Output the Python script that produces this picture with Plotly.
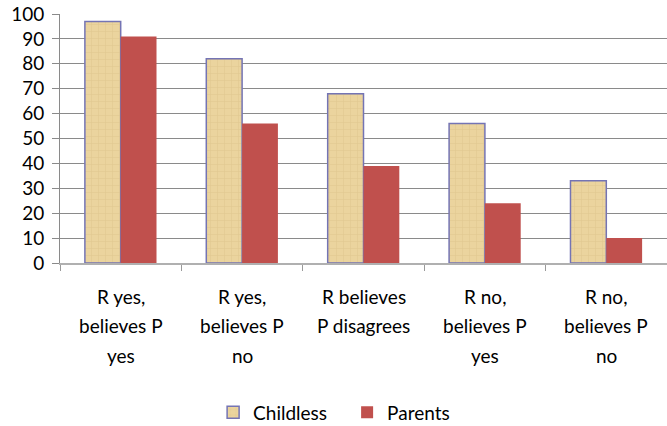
import plotly.graph_objects as go

# Survey response categories (one label line per entry)
category_lines = [
    ["R yes,", "believes P", "yes"],
    ["R yes,", "believes P", "no"],
    ["R believes", "P disagrees"],
    ["R no,", "believes P", "yes"],
    ["R no,", "believes P", "no"],
]
categories = [" ".join(lines) for lines in category_lines]

childless = [97, 82, 68, 56, 33]
parents = [91, 56, 39, 24, 10]

y_ticks = [0, 10, 20, 30, 40, 50, 60, 70, 80, 90, 100]

FONT = "Lato, 'DejaVu Sans', sans-serif"
GRID = "#8a8a8a"

fig = go.Figure()
fig.add_trace(go.Bar(
    name="Childless",
    x=categories,
    y=childless,
    marker=dict(
        color="#EBD49E",
        line=dict(color="#7474B4", width=1.5),
        pattern=dict(shape="+", fgcolor="#C9AE72", fgopacity=0.35,
                     size=7, solidity=0.15),
    ),
))
fig.add_trace(go.Bar(
    name="Parents",
    x=categories,
    y=parents,
    marker=dict(color="#C0504D", line=dict(width=0)),
))

# Multi-line category labels with generous line spacing
annotations = []
for cat, lines in zip(categories, category_lines):
    for i, line in enumerate(lines):
        annotations.append(dict(
            x=cat, xref="x",
            y=0, yref="paper",
            yshift=-33 - 29.5 * i,
            text=line,
            showarrow=False,
            font=dict(family=FONT, size=19, color="#000000"),
            xanchor="center", yanchor="middle",
        ))

fig.update_layout(
    width=667, height=426,
    margin=dict(l=60, r=0, t=14, b=163, autoexpand=False),
    paper_bgcolor="white",
    plot_bgcolor="white",
    barmode="group",
    bargap=0.41,
    bargroupgap=0,
    font=dict(family=FONT, size=18, color="#000000"),
    showlegend=True,
    legend=dict(
        orientation="h",
        x=0.473, xanchor="center",
        y=-0.6, yanchor="middle",
        yref="paper",
        font=dict(family=FONT, size=19),
        itemwidth=30,
        entrywidth=89,
        tracegroupgap=0,
    ),
    annotations=annotations,
)

fig.update_xaxes(
    type="category",
    showticklabels=False,
    ticks="outside",
    tickson="boundaries",
    ticklen=6,
    tickcolor="#9a9a9a",
    showline=True,
    linecolor="#b0b0b0",
    linewidth=1.5,
    showgrid=False,
    range=[-0.5, 4.5],
)

fig.update_yaxes(
    range=[0, 100],
    tickvals=y_ticks,
    ticks="outside",
    ticklen=7,
    tickcolor=GRID,
    showline=True,
    linecolor=GRID,
    linewidth=1,
    showgrid=True,
    gridcolor=GRID,
    gridwidth=1,
    zeroline=False,
    tickfont=dict(family=FONT, size=19),
    ticklabelstandoff=4,
)

fig.write_html("out.html")
